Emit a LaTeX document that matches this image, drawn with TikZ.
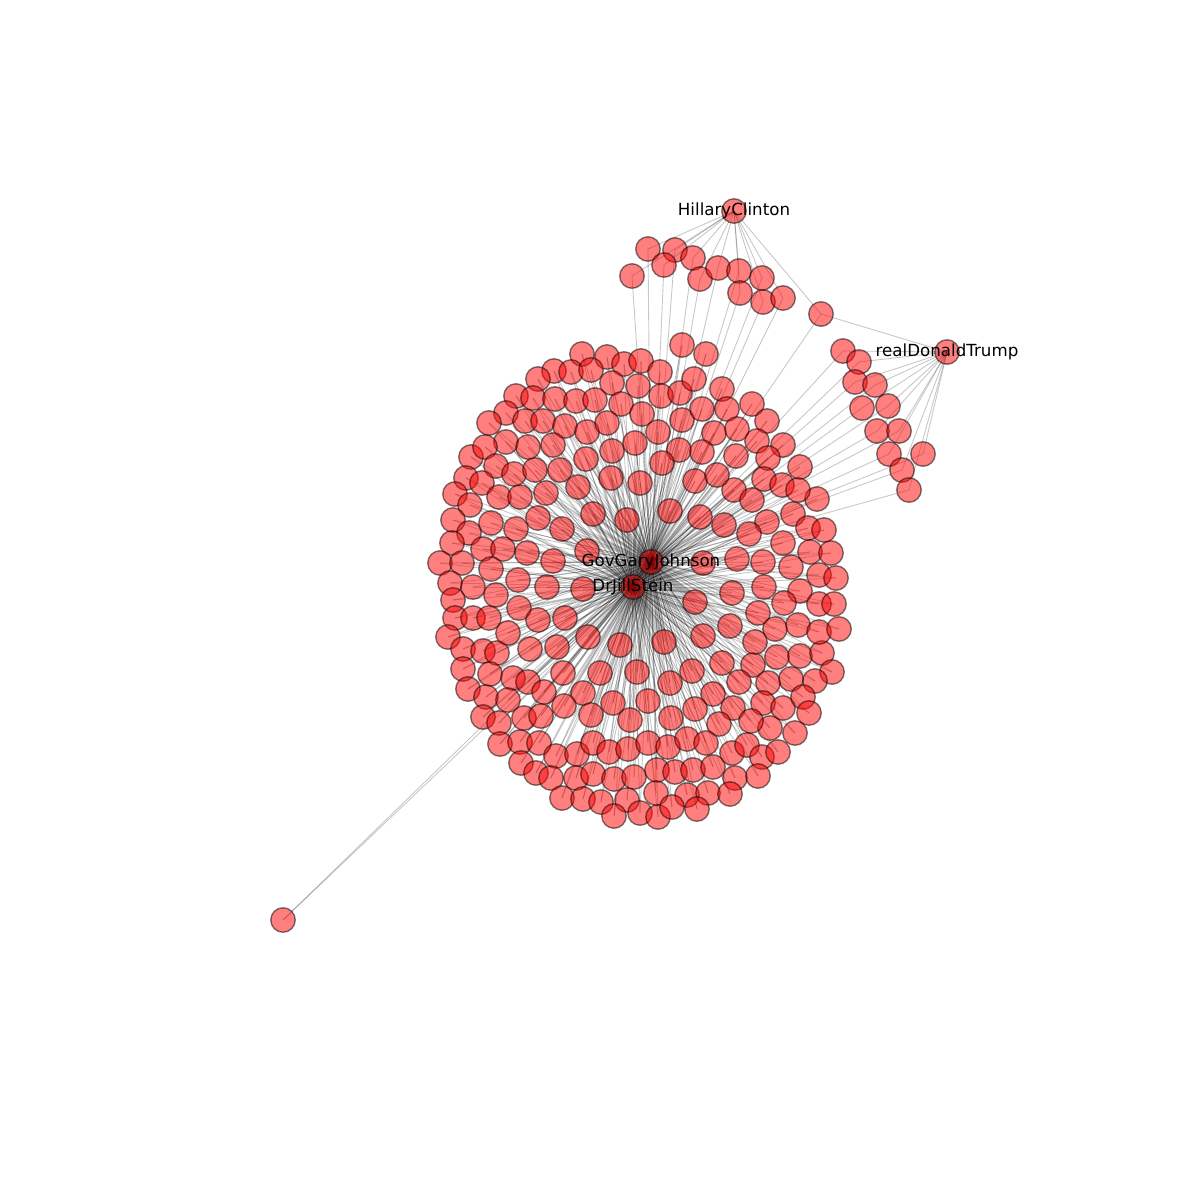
\documentclass[tikz,border=0pt]{standalone}
\usepackage{fontspec}
\setmainfont{DejaVu Sans}
\pgfdeclarelayer{bg}
\pgfsetlayers{bg,main}
\begin{document}
\begin{tikzpicture}[x=0.01cm,y=-0.01cm,
  nd/.style={circle,inner sep=0pt,minimum size=0.245cm,fill=red,fill opacity=0.5,draw=black,draw opacity=0.5,line width=0.4pt},
  edge/.style={draw=black,opacity=0.22,line width=0.25pt},
  lbl/.style={font=\fontsize{4.74}{5}\selectfont,text=black,inner sep=0pt}]
\useasboundingbox (0,0) rectangle (1200,1200);
\def\clist{582/354,607/357,624/364,641/361,554/371,571/372,591/370,538/379,612/383,638/386,
516/396,533/398,555/399,576/401,595/400,621/404,642/414,506/413,525/421,543/421,
565/426,587/432,607/423,489/423,506/442,528/447,553/445,586/459,612/451,635/443,
471/457,485/447,496/466,514/474,535/470,560/470,578/487,611/478,640/483,466/478,
482/483,455/494,499/497,520/497,546/493,470/505,
453/520,491/523,516/529,538/518,562/529,593/514,627/520,469/533,452/543,483/549,
503/549,527/553,553/561,587/551,440/563,462/563,491/569,518/580,547/587,583/589,
450/583,473/587,496/595,453/600,455/618,473/618,489/618,519/608,538/620,565/618,
588/637,620/645,448/637,463/649,483/651,497/653,508/633,530/649,557/647,
463/669,490/674,513/678,528/682,563/673,600/673,637/672,468/689,486/697,508/700,
544/692,583/693,613/703,483/717,499/723,524/718,541/716,564/706,591/715,630/720,
500/744,520/742,539/743,556/756,577/754,593/743,609/752,628/749,521/763,536/773,
551/778,576/778,593/774,614/779,634/777,562/798,583/799,601/802,627/800,614/816,
640/813,658/817,
670/683,692/671,722/663,753/665,777/657,800/656,822/653,832/672,815/681,791/679,
768/683,739/682,713/694,648/701,671/718,695/709,733/708,763/703,783/708,803/697,
809/713,795/733,770/728,751/721,719/724,648/743,668/747,687/739,706/743,732/753,
747/745,762/757,778/752,657/770,675/772,693/770,713/767,735/778,758/776,656/793,
687/795,708/793,730/794,672/807,697/809,
670/511,700/517,734/490,752/500,767/522,749/534,724/525,793/514,817/499,808/528,
824/530,783/543,810/552,831/553,703/563,737/559,763/562,791/567,819/575,836/578,
732/593,764/587,800/591,819/604,834/604,695/602,758/613,784/603,730/626,703/636,
775/629,798/625,819/632,839/629,664/642,755/642,
682/345,706/354,660/372,661/396,680/393,694/379,722/389,682/420,702/409,727/409,
752/404,767/421,658/432,714/433,737/429,757/441,783/445,679/450,702/452,736/456,
768/458,800/467,662/463,695/481,717/475,764/479,782/485,798/490}
\def\hlist{648/249,675/250,664/265,693/258,632/276,700/279,718/268,739/271,762/278,740/293,763/302,783/298}
\def\tlist{843/351,859/362,855/382,875/385,862/408,888/406,877/431,899/431,889/454,923/454,902/470,909/490}
% hubs and named accounts
\node[nd] (J) at (651,562) {};
\node[nd] (S) at (633,587) {};
\node[nd] (H) at (734,211) {};
\node[nd] (T) at (947,352) {};
\node[nd] (M) at (821,314) {};
\node[nd] (O) at (283,920) {};
\foreach \x/\y [count=\i] in \clist {\node[nd] (c\i) at (\x,\y) {};}
\foreach \x/\y [count=\i] in \hlist {\node[nd] (h\i) at (\x,\y) {};}
\foreach \x/\y [count=\i] in \tlist {\node[nd] (t\i) at (\x,\y) {};}
% edges
\begin{pgfonlayer}{bg}
\foreach \x/\y [count=\i] in \clist {
  \draw[edge] (c\i.center) -- (J.center);
  \draw[edge] (c\i.center) -- (S.center);
}
\foreach \x/\y [count=\i] in \hlist {
  \draw[edge] (h\i.center) -- (H.center);
  \draw[edge] (h\i.center) -- (J.center);
}
\foreach \x/\y [count=\i] in \tlist {
  \draw[edge] (t\i.center) -- (T.center);
  \draw[edge] (t\i.center) -- (J.center);
}
\draw[edge] (J.center) -- (S.center);
\draw[edge] (M.center) -- (H.center);
\draw[edge] (M.center) -- (T.center);
\draw[edge] (M.center) -- (J.center);
\draw[edge] (O.center) -- (J.center);
\draw[edge] (O.center) -- (S.center);
\end{pgfonlayer}
% labels
\node[lbl] (lH) at (H.center) {HillaryClinton};
\node[lbl] (lT) at (T.center) {realDonaldTrump};
\node[lbl] (lJ) at (J.center) {GovGaryJohnson};
\node[lbl] (lS) at (S.center) {DrJillStein};
\end{tikzpicture}
\end{document}
